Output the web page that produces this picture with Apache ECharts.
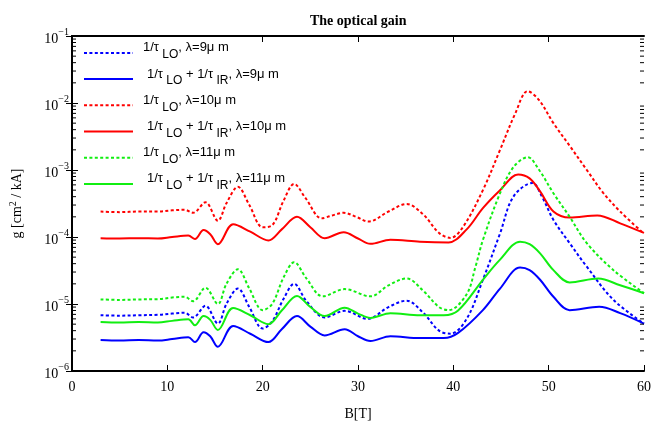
<!DOCTYPE html>
<html>
<head>
<meta charset="utf-8">
<script src="https://cdn.jsdelivr.net/npm/echarts@6/dist/echarts.min.js"></script>
<style>
  html, body { margin: 0; padding: 0; background: #fff; }
  #chart { width: 666px; height: 421px; }
</style>
</head>
<body>
<div id="chart"></div>
<script>
// data: [B (T), g (cm^2/kA)]
const blueLO = [[3,6.8e-6],[5,6.7e-6],[7,6.8e-6],[9,6.9e-6],[10.5,7.2e-6],[11.8,7.4e-6],[12.7,6.3e-6],[14,9.4e-6],[15.3,5.1e-6],[16.2,1.0e-5],[17.4,1.7e-5],[18.6,9e-6],[20,4.3e-6],[21,5.5e-6],[22.2,1.2e-5],[23.3,2.0e-5],[24.6,1.1e-5],[26.5,6.3e-6],[28.6,7.9e-6],[31,6.0e-6],[33.2,9e-6],[35.1,1.12e-5],[36.8,7.5e-6],[38.5,4e-6],[39.7,3.6e-6],[41.4,6e-6],[43.1,2.3e-5],[44.9,1.13e-4],[46.3,4e-4],[48.3,6.4e-4],[49.3,4e-4],[50.5,1.8e-4],[52.2,8.1e-5],[54,3.6e-5],[56.8,1.15e-5],[60,5.1e-6]];
const blueIR = [[3,2.9e-6],[5,2.85e-6],[7,2.9e-6],[9,2.85e-6],[10.5,3.0e-6],[12.2,3.2e-6],[12.9,2.7e-6],[13.8,3.8e-6],[14.5,3.3e-6],[15.3,2.3e-6],[16.9,4.7e-6],[18.7,3.6e-6],[20.6,2.7e-6],[22,4.2e-6],[23.6,6.6e-6],[25,4.6e-6],[26.5,3.4e-6],[28.6,4.2e-6],[30,3.3e-6],[31.3,2.8e-6],[33.4,3.3e-6],[36.5,3.1e-6],[39,3.1e-6],[40.5,3.7e-6],[43.1,8.1e-6],[44.9,1.7e-5],[47,3.5e-5],[48,3.2e-5],[49.1,2.3e-5],[50.5,1.28e-5],[52.2,8.1e-6],[55.3,9.1e-6],[57.5,7.3e-6],[60,5.1e-6]];
const redLO = [[3,2.4e-4],[5,2.35e-4],[7,2.4e-4],[9,2.4e-4],[10.5,2.5e-4],[11.8,2.55e-4],[12.7,2.3e-4],[14,3.3e-4],[15.3,1.75e-4],[16.2,3.2e-4],[17.4,5.6e-4],[18.6,3.0e-4],[20,1.4e-4],[21,1.5e-4],[22.2,3.5e-4],[23.3,6.2e-4],[24.5,3.8e-4],[26.2,1.9e-4],[27.3,2.1e-4],[28.5,2.3e-4],[29.8,2.0e-4],[31.1,1.7e-4],[33.2,2.4e-4],[35.1,3.1e-4],[36.8,2.2e-4],[38.5,1.15e-4],[39.7,9.7e-5],[41,1.4e-4],[43.1,5e-4],[44.9,2.0e-3],[46.5,7e-3],[47.8,1.5e-2],[49,1.1e-2],[50.5,5e-3],[52.2,2.3e-3],[54,1e-3],[55.7,4.6e-4],[57.5,2.4e-4],[60,1.12e-4]];
const redIR = [[3,9.6e-5],[5,9.5e-5],[7,9.6e-5],[9,9.5e-5],[10.5,1.0e-4],[12.2,1.05e-4],[12.9,9.3e-5],[13.8,1.27e-4],[14.5,1.1e-4],[15.3,7.8e-5],[16.9,1.55e-4],[18.7,1.2e-4],[20.6,8.9e-5],[22,1.3e-4],[23.6,2.0e-4],[25,1.4e-4],[26.5,9.6e-5],[28.5,1.18e-4],[30,9.5e-5],[31.3,7.9e-5],[33.4,9.1e-5],[36.5,8.5e-5],[39.5,8.3e-5],[41.4,1.3e-4],[43.1,2.7e-4],[44.9,5e-4],[46.8,8.6e-4],[48,7.5e-4],[49.1,4.8e-4],[50.5,2.4e-4],[52.2,1.95e-4],[55.1,2.1e-4],[57.5,1.6e-4],[60,1.15e-4]];
const greenLO = [[3,1.17e-5],[5,1.15e-5],[7,1.17e-5],[9,1.18e-5],[10.5,1.25e-5],[11.8,1.28e-5],[12.7,1.1e-5],[14,1.75e-5],[15.3,1.0e-5],[16.2,2.0e-5],[17.4,3.3e-5],[18.6,1.7e-5],[20,8.1e-6],[21,1.0e-5],[22.2,2.5e-5],[23.3,4.2e-5],[24.6,2.4e-5],[26.3,1.3e-5],[28.6,1.67e-5],[31.3,1.3e-5],[33.2,1.9e-5],[35.1,2.4e-5],[36.8,1.6e-5],[38.5,9e-6],[39.5,8.1e-6],[41.4,1.4e-5],[42.3,3.5e-5],[43.1,9e-5],[44.9,4.5e-4],[46.3,1.1e-3],[47.8,1.55e-3],[49,1.0e-3],[50.5,4.5e-4],[52.2,2.0e-4],[54,8.1e-5],[56.8,3.2e-5],[60,1.45e-5]];
const greenIR = [[3,5.4e-6],[5,5.3e-6],[7,5.4e-6],[9,5.3e-6],[10.5,5.6e-6],[12.2,5.9e-6],[12.9,4.8e-6],[13.8,6.6e-6],[14.5,5.8e-6],[15.3,4.1e-6],[16.9,8.7e-6],[18.7,6.8e-6],[20.6,5.0e-6],[22,8e-6],[23.6,1.32e-5],[25,9e-6],[26.5,6.6e-6],[28.6,8.8e-6],[30,7.2e-6],[31.3,6.2e-6],[33.4,7.3e-6],[36.5,6.8e-6],[39,6.8e-6],[40.5,8e-6],[43.1,2.3e-5],[44.9,4.6e-5],[47,8.5e-5],[48,7.8e-5],[49.1,5.7e-5],[50.5,3.2e-5],[52.2,2.1e-5],[55.2,2.4e-5],[57.5,1.9e-5],[60,1.45e-5]];

const seriesNames = ['b1', 'b2', 'r1', 'r2', 'g1', 'g2'];
const legendLabels = [
  '{f|1/τ}{s| LO}{a|, λ=9μ m}',
  '{g|1/τ}{s| LO}{a| + 1/τ}{s| IR}{a|, λ=9μ m}',
  '{f|1/τ}{s| LO}{a|, λ=10μ m}',
  '{g|1/τ}{s| LO}{a| + 1/τ}{s| IR}{a|, λ=10μ m}',
  '{f|1/τ}{s| LO}{a|, λ=11μ m}',
  '{g|1/τ}{s| LO}{a| + 1/τ}{s| IR}{a|, λ=11μ m}'
];
const seriesData = [blueLO, blueIR, redLO, redIR, greenLO, greenIR];
const colors = ['#0000ff', '#0000ff', '#ff0000', '#ff0000', '#11ee11', '#11ee11'];
const dotted = [true, false, true, false, true, false];

// minor ticks on the log axis (2..9 x 10^n)
const minorTicks = [];
for (let e = -6; e <= -2; e++) {
  for (let k = 2; k <= 9; k++) minorTicks.push(k * Math.pow(10, e));
}

const serif = 'Liberation Serif';
const sans = 'Liberation Sans';

const lineSeries = seriesData.map((d, i) => ({
  name: seriesNames[i],
  type: 'line',
  data: d,
  smooth: 0.35,
  symbol: 'none',
  showSymbol: false,
  color: colors[i],
  lineStyle: { color: colors[i], width: 2, type: dotted[i] ? [3, 2.4] : 'solid' }
}));

const option = {
  animation: false,
  backgroundColor: '#fff',
  title: {
    text: 'The optical gain',
    left: 305,
    top: 9,
    textStyle: { fontFamily: serif, fontSize: 14, fontWeight: 'bold', color: '#000' }
  },
  legend: {
    orient: 'vertical',
    left: 83,
    top: 37,
    padding: [4.4, 0, 0, 0],
    itemWidth: 49,
    itemHeight: 14,
    itemGap: 3.2,
    itemStyle: { opacity: 0 },
    data: seriesNames,
    formatter: (name) => legendLabels[seriesNames.indexOf(name)],
    textStyle: {
      color: '#000',
      fontFamily: sans,
      fontSize: 13,
      rich: {
        f: { fontFamily: sans, fontSize: 13, color: '#000', lineHeight: 14, padding: [0, 0, 10, 5] },
        g: { fontFamily: sans, fontSize: 13, color: '#000', lineHeight: 14, padding: [0, 0, 10, 9] },
        a: { fontFamily: sans, fontSize: 13, color: '#000', lineHeight: 14, padding: [0, 0, 10, 0] },
        s: { fontFamily: sans, fontSize: 12, color: '#000', lineHeight: 12, padding: [4, 0, 0, 0] }
      }
    }
  },
  grid: { left: 72, right: 22, top: 36, bottom: 50, containLabel: false, outerBoundsMode: 'none' },
  xAxis: [
    {
      type: 'value', min: 0, max: 60, interval: 10, position: 'bottom',
      name: 'B[T]', nameLocation: 'middle', nameGap: 36,
      nameTextStyle: { fontFamily: serif, fontSize: 14, color: '#000' },
      axisLine: { lineStyle: { color: '#000', width: 2 } },
      axisTick: { inside: true, length: 6, lineStyle: { color: '#000', width: 1 } },
      axisLabel: { fontFamily: serif, fontSize: 14, color: '#000', margin: 9 },
      splitLine: { show: false }
    },
    {
      type: 'value', min: 0, max: 60, interval: 10, position: 'top',
      axisLine: { lineStyle: { color: '#000', width: 2 } },
      axisTick: { inside: true, length: 6, customValues: [20, 30, 40, 50], lineStyle: { color: '#000', width: 1 } },
      axisLabel: { show: false },
      splitLine: { show: false }
    }
  ],
  yAxis: [
    {
      type: 'log', logBase: 10, min: 1e-6, max: 1e-1, position: 'left',
      name: 'g [cm{p|2} / kA]', nameLocation: 'middle', nameGap: 46, nameRotate: 90,
      nameTextStyle: {
        fontFamily: serif, fontSize: 14, color: '#000',
        rich: { p: { fontFamily: serif, fontSize: 10, color: '#000', padding: [0, 0, 8, 0] } }
      },
      axisLine: { lineStyle: { color: '#000', width: 2 } },
      axisTick: { inside: true, length: 6, lineStyle: { color: '#000', width: 1 } },
      axisLabel: {
        margin: 3,
        formatter: (v) => '{b|10}{p|−' + (-Math.round(Math.log10(v))) + '}',
        rich: {
          b: { fontFamily: serif, fontSize: 14, color: '#000', padding: [6, 0, 0, 0] },
          p: { fontFamily: serif, fontSize: 10, color: '#000', padding: [0, 0, 8, 0] }
        }
      },
      splitLine: { show: false }
    },
    {
      type: 'log', logBase: 10, min: 1e-6, max: 1e-1, position: 'right',
      axisLine: { lineStyle: { color: '#000', width: 2 } },
      axisTick: { inside: true, length: 6, lineStyle: { color: '#000', width: 1 } },
      axisLabel: { show: false },
      splitLine: { show: false }
    }
  ],
  series: lineSeries.concat([{
    type: 'custom',
    silent: true,
    clip: false,
    z: 5,
    xAxisIndex: 0,
    yAxisIndex: 0,
    data: minorTicks.map((v) => [0, v]),
    renderItem: (params, api) => {
      const v = api.value(1);
      const l = api.coord([0, v]);
      const r = api.coord([60, v]);
      const st = { stroke: '#000', lineWidth: 1 };
      return {
        type: 'group',
        children: [
          { type: 'line', shape: { x1: l[0], y1: l[1], x2: l[0] + 4, y2: l[1] }, style: st },
          { type: 'line', shape: { x1: r[0] - 4, y1: r[1], x2: r[0], y2: r[1] }, style: st }
        ]
      };
    }
  }])
};

echarts.init(document.getElementById('chart')).setOption(option);
</script>
</body>
</html>
